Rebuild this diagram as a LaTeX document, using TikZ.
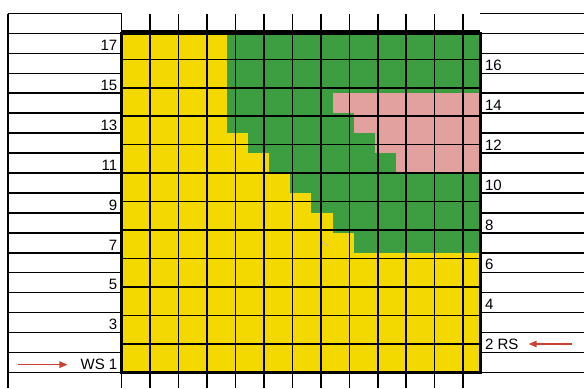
\documentclass[tikz,border=0pt]{standalone}
\usepackage{fontspec}
\setmainfont{Liberation Sans}
\usetikzlibrary{arrows.meta}

\definecolor{cellyellow}{RGB}{244,217,0}
\definecolor{cellgreen}{RGB}{61,158,65}
\definecolor{cellpink}{RGB}{226,161,158}
\definecolor{arrowred}{RGB}{204,66,50}

\begin{document}
\begin{tikzpicture}[x=21.08pt, y=19.93pt,
        gridline/.style={line width=1.6pt},
        border/.style={line width=3pt},
        rowlabel/.style={font=\fontsize{15}{17}\selectfont, inner sep=0pt},
        redarrow/.style={draw=arrowred, line width=1.5pt, -{Triangle[length=8pt,width=6.5pt]}}]
    \useasboundingbox (-5.773,-0.788) rectangle (21.93,18.68);

    % colour of each row: yellow up to column \c, green after it
    \foreach \r/\c in {1/17,2/17,3/17,4/17,5/17,6/17,7/11,8/10,9/9,10/8,
                       11/7,12/6,13/5,14/5,15/5,16/5,17/5} {
        \fill[cellyellow] (0,\r-1) rectangle (\c,\r);
        \fill[cellgreen] (\c,\r-1) rectangle (17,\r);
    }
    \foreach \r/\c in {11/13,12/12,13/11,14/10}
        \fill[cellpink] (\c,\r-1) rectangle (17,\r);
    \draw[gray!50, line width=0.8pt] (9.36,6.64) -- (9.79,6.34);

    % grid and side columns
    \draw[gridline] (0,-0.788) grid (17,18);
    \foreach \y in {0,...,18} {
        \draw[gridline] (-5.394,\y) -- (0,\y);
        \draw[gridline] (17,\y) -- (21.93,\y);
    }
    \draw[gridline] (-5.394,-0.788) -- (-5.394,18);
    \draw[border] (0,0) rectangle (17,17);

    % row numbers
    \foreach \r in {3,5,...,17}
        \node[rowlabel, anchor=base east] (l\r) at (-0.2,\r-0.865) {\r};
    \node[rowlabel, anchor=base east] (ws) at (-0.2,0.135) {WS 1};
    \foreach \r in {4,6,...,16}
        \node[rowlabel, anchor=base west] (r\r) at (17.23,\r-0.865) {\r};
    \node[rowlabel, anchor=base west] (rs) at (17.23,1.135) {2 RS};

    \coordinate (wsTail) at (-4.92,0.383);
    \coordinate (rsTail) at (21.36,1.42);
    \draw[redarrow, shorten >=13pt] (wsTail) -- (wsTail -| ws.west);
    \draw[redarrow, shorten >=10pt] (rsTail) -- (rsTail -| rs.east);
\end{tikzpicture}
\end{document}
